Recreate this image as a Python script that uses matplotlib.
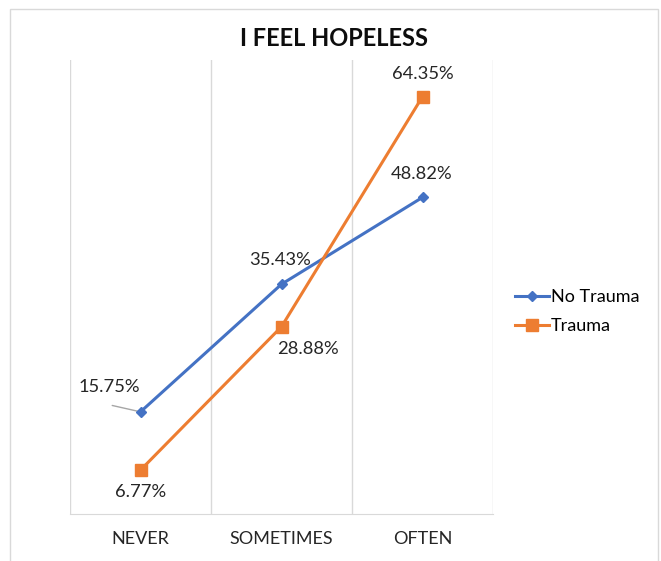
import numpy as np
import matplotlib.pyplot as plt
from matplotlib.patches import Rectangle

plt.rcParams['font.family'] = ['Lato', 'DejaVu Sans']

categories = ['NEVER', 'SOMETIMES', 'OFTEN']
no_trauma = [15.75, 35.43, 48.82]
trauma = [6.77, 28.88, 64.35]

blue = '#4472C4'
orange = '#ED7D31'
grid = '#D9D9D9'

fig = plt.figure(figsize=(6.61, 5.61), dpi=100)
ax = fig.add_axes([70/661, 47/561, 423/661, 454/561])

x = np.arange(len(categories))
ax.plot(x, no_trauma, color=blue, lw=2.2, marker='D', ms=5.5, label='No Trauma', zorder=3)
ax.plot(x, trauma, color=orange, lw=2.2, marker='s', ms=8, label='Trauma', zorder=3)

ax.set_xlim(-0.5, 2.5)
ax.set_ylim(0, 70)
for g in [-0.5, 0.5, 1.5, 2.5]:
    ax.axvline(g, color=grid, lw=1, zorder=1)
for s in ['top', 'left', 'right']:
    ax.spines[s].set_visible(False)
ax.spines['bottom'].set_color(grid)
ax.set_yticks([])
ax.set_xticks(x)
ax.set_xticklabels(categories, fontsize=13, color='#262626')
ax.tick_params(axis='x', length=0, pad=12)

# data labels (offsets in pixels)
nt_off = [(-31, 25), (-1, 24), (-1, 23)]
tr_off = [(0, -22), (26, -22), (0, 23)]
for i in range(len(categories)):
    ax.annotate(f'{no_trauma[i]:.2f}%', (x[i], no_trauma[i]), xytext=nt_off[i],
                textcoords='offset pixels', ha='center', va='center', fontsize=13.2, color='#262626')
    ax.annotate(f'{trauma[i]:.2f}%', (x[i], trauma[i]), xytext=tr_off[i],
                textcoords='offset pixels', ha='center', va='center', fontsize=13.2, color='#262626')
# leader line for the first label
ax.annotate('', (x[0], no_trauma[0]), xytext=(-31, 7), textcoords='offset pixels',
            arrowprops=dict(arrowstyle='-', color='#A6A6A6', lw=1), zorder=2)

fig.text(334/661, 1 - 38/561, 'I FEEL HOPELESS', ha='center', va='center',
         fontsize=17, fontweight='bold', color='#0D0D0D')

fig.legend(loc='center left', bbox_to_anchor=(515/661, 1 - 311.5/561), frameon=False,
           fontsize=13, handlelength=1.9, handletextpad=0.1, labelspacing=0.7,
           borderpad=0, borderaxespad=0)

fig.patches.append(Rectangle((10/661, -0.02), 648/661, 1.02 - 9/561, transform=fig.transFigure,
                             fill=False, edgecolor=grid, lw=1))

fig.savefig('out.png', dpi=100)
